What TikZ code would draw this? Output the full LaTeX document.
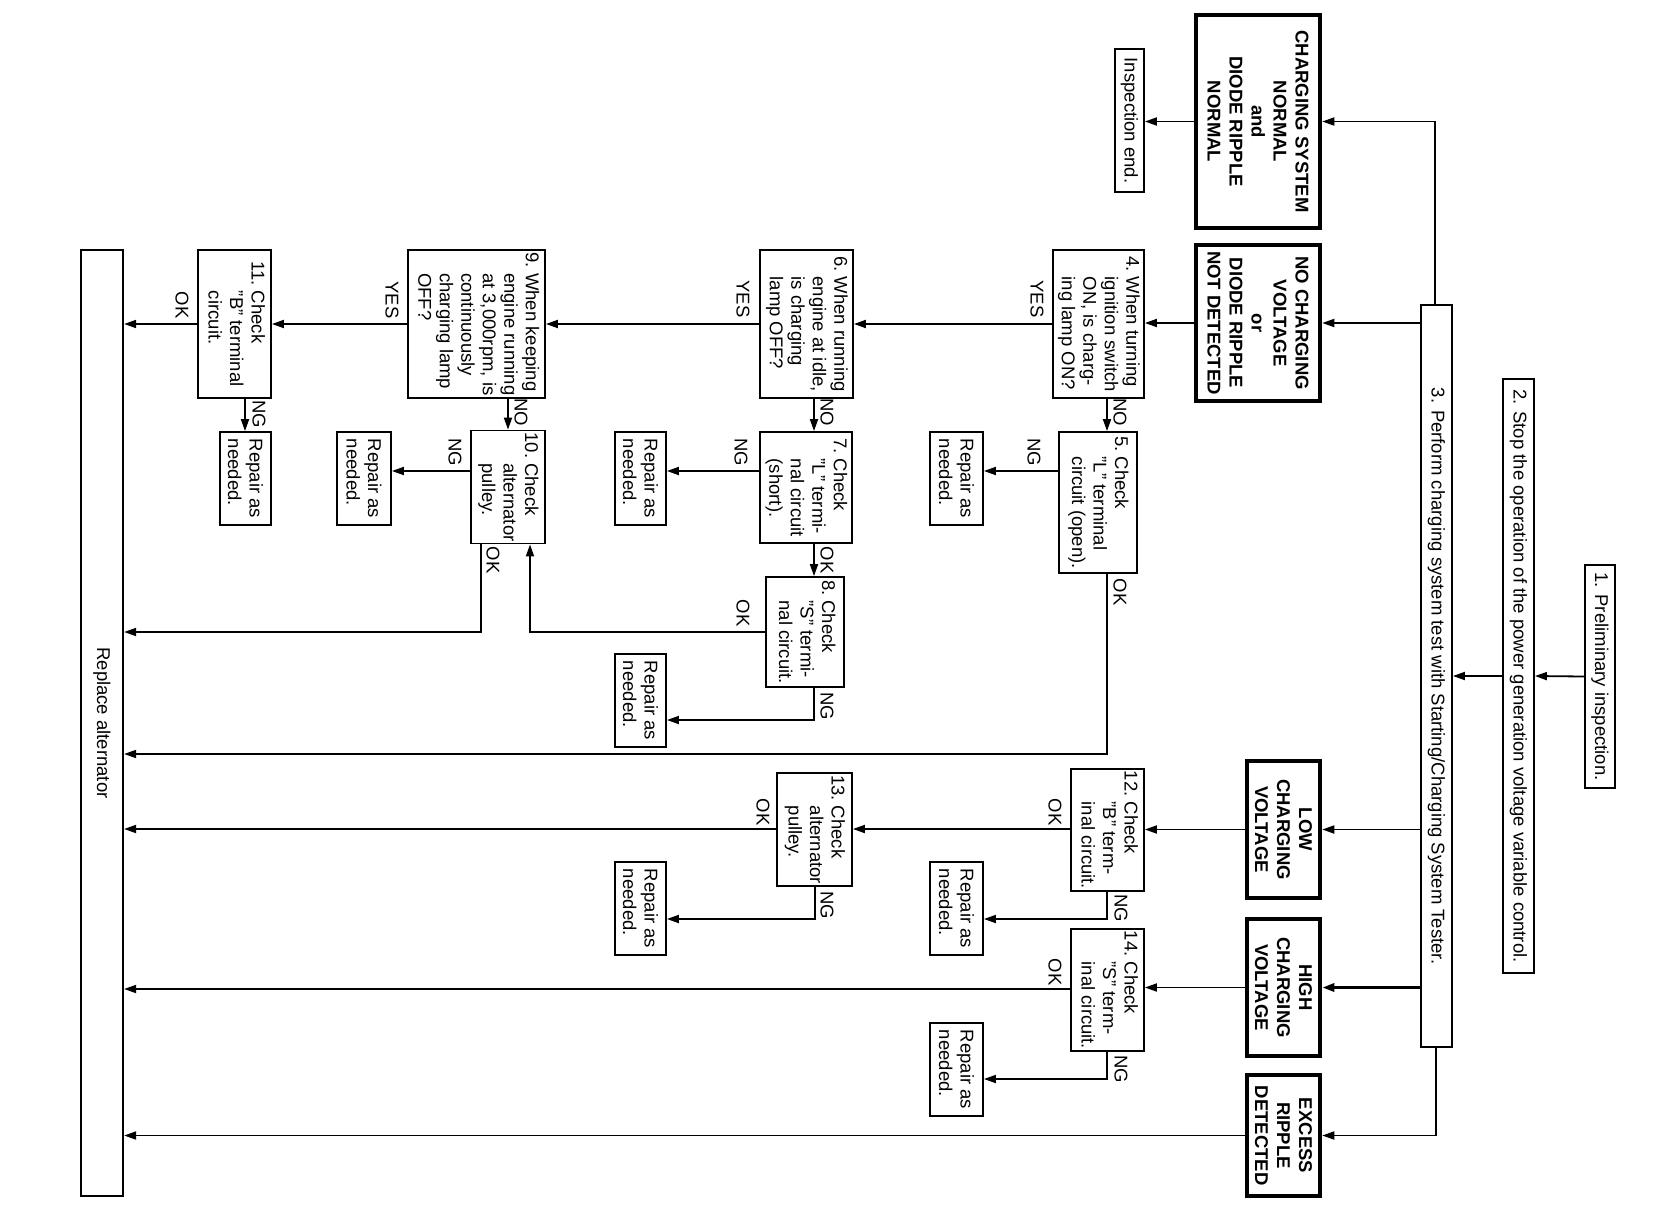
\documentclass[tikz,border=0pt]{standalone}
\usepackage{fontspec}
\setmainfont{Liberation Sans}
\usetikzlibrary{arrows.meta}
\newcommand{\hng}[2]{#1\ \begin{tabular}[t]{@{}l@{}}#2\end{tabular}}
\begin{document}
\begin{tikzpicture}[x=1pt,y=-1pt,
  nbox/.style={draw, line width=1.8pt, rotate=-90, inner sep=2pt, font=\fontsize{18.5}{21.5}\selectfont},
  rbox/.style={nbox, align=left},
  bbox/.style={draw, line width=4.5pt, rotate=-90, inner sep=2pt, align=center, font=\fontsize{18.5}{22}\selectfont\bfseries},
  lbl/.style={rotate=-90, inner sep=0pt, font=\fontsize{18.5}{21.5}\selectfont},
  arr/.style={line width=1.8pt, -{Triangle[length=12pt,width=8pt]}},
  ln/.style={line width=1.8pt}]
\useasboundingbox[fill=white] (0,0) rectangle (1660,1216);

% main column
\node[nbox, minimum width=223pt, minimum height=30pt] (b1) at (1600,676.5) {1. Preliminary inspection.};
\node[nbox, minimum width=594pt, minimum height=31pt] (b2) at (1518.5,676) {2. Stop the operation of the power generation voltage variable control.};
\node[nbox, minimum width=742pt, minimum height=31pt] (b3) at (1436.5,676) {3. Perform charging system test with Starting/Charging System Tester.};

% results
\node[bbox, minimum width=213pt, minimum height=124pt] (csn) at (1258,121.5) {CHARGING SYSTEM\\NORMAL\\and\\DIODE RIPPLE\\NORMAL};
\node[bbox, minimum width=156pt, minimum height=124pt] (noc) at (1258,323) {NO CHARGING\\VOLTAGE\\or\\DIODE RIPPLE\\NOT DETECTED};
\node[bbox, minimum width=137pt, minimum height=73pt] (low) at (1283.5,829.5) {LOW\\CHARGING\\VOLTAGE};
\node[bbox, minimum width=137pt, minimum height=73pt] (high) at (1283.5,987.5) {HIGH\\CHARGING\\VOLTAGE};
\node[bbox, minimum width=121pt, minimum height=73pt] (exc) at (1283.5,1135.5) {EXCESS\\RIPPLE\\DETECTED};
\node[nbox, minimum width=143pt, minimum height=29pt] (insp) at (1129.5,120.5) {Inspection end.};

% checks
\node[nbox, minimum width=148pt, minimum height=91pt] (b4) at (1098.5,324) {\hng{4.}{When turning\\ignition switch\\ON, is charg-\\ing lamp ON?}};
\node[nbox, minimum width=141pt, minimum height=78pt] (b5) at (1098,502.5) {\hng{5.}{Check\\"L" terminal\\circuit (open).}};
\node[rbox, minimum width=93pt, minimum height=53pt] (r5) at (956.5,478.5) {Repair as\\needed.};
\node[nbox, minimum width=148pt, minimum height=93pt] (b6) at (806.5,324) {\hng{6.}{When running\\engine at idle,\\is charging\\lamp OFF?}};
\node[nbox, minimum width=111pt, minimum height=92pt] (b7) at (806,487.5) {\hng{7.}{Check\\"L" termi-\\nal circuit\\(short).}};
\node[rbox, minimum width=93pt, minimum height=51pt] (r7) at (640.5,478.5) {Repair as\\needed.};
\node[nbox, minimum width=110pt, minimum height=78pt] (b8) at (805,632) {\hng{8.}{Check\\"S" termi-\\nal circuit.}};
\node[rbox, minimum width=93pt, minimum height=51pt] (r8) at (640.5,700.5) {Repair as\\needed.};
\node[nbox, minimum width=148pt, minimum height=137pt] (b9) at (476.5,324) {\hng{9.}{When keeping\\engine running\\at 3,000rpm, is\\continuously\\charging lamp\\OFF?}};
\node[nbox, minimum width=110pt, minimum height=74pt] (b10) at (508,487) {\hng{10.}{Check\\alternator\\pulley.}};
\node[rbox, minimum width=93pt, minimum height=54pt] (r10) at (364,478.5) {Repair as\\needed.};
\node[nbox, minimum width=148pt, minimum height=73pt] (b11) at (234.5,324) {\hng{11.}{Check\\"B" terminal\\circuit.}};
\node[rbox, minimum width=93pt, minimum height=51pt] (r11) at (245.5,478.5) {Repair as\\needed.};
\node[nbox, line width=2.2pt, minimum width=946pt, minimum height=42pt] (rep) at (102,723) {Replace alternator};
\node[nbox, minimum width=122pt, minimum height=73pt] (b12) at (1107.5,830) {\hng{12.}{Check\\"B" term-\\inal circuit.}};
\node[rbox, minimum width=93pt, minimum height=53pt] (r12) at (956.5,908.5) {Repair as\\needed.};
\node[nbox, minimum width=111pt, minimum height=75pt] (b13) at (814.5,829.5) {\hng{13.}{Check\\alternator\\pulley.}};
\node[rbox, minimum width=93pt, minimum height=51pt] (r13) at (640.5,908.5) {Repair as\\needed.};
\node[nbox, minimum width=122pt, minimum height=73pt] (b14) at (1107.5,990) {\hng{14.}{Check\\"S" term-\\inal circuit.}};
\node[rbox, minimum width=93pt, minimum height=53pt] (r14) at (956.5,1069.5) {Repair as\\needed.};

% connectors
\draw[arr] (b1.south) -- (b2.north);
\draw[arr] (b2.south) -- (b3.north);
\draw[arr] (b3.west -| 1435,0) |- (csn.north);
\draw[arr] (b3.south |- noc.north) -- (noc.north);
\draw[arr] (csn.south) -- (insp.north |- csn.south);
\draw[arr] (noc.south) -- (b4.north |- noc.south);
\draw[arr] (b4.south) -- (b6.north);
\draw[arr] (b4.east -| 1107,0) -- (b5.west -| 1107,0);
\draw[arr] (b5.south |- 0,471) -- (r5.north |- 0,471);
\draw[arr] (b5.east -| 1107,0) |- (rep.north |- 0,754);
\draw[arr] (b6.south) -- (b9.north);
\draw[arr] (b6.east -| 814,0) -- (b7.west -| 814,0);
\draw[arr] (b7.south |- 0,471) -- (r7.north |- 0,471);
\draw[arr] (b7.east -| 814,0) -- (b8.west -| 814,0);
\draw[arr] (b8.south |- 0,632) -| (b10.east -| 530,0);
\draw[arr] (b8.east -| 814,0) |- (r8.north |- 0,720);
\draw[arr] (b9.south) -- (b11.north);
\draw[arr] (b9.east -| 508,0) -- (b10.west -| 508,0);
\draw[arr] (b10.south |- 0,471) -- (r10.north |- 0,471);
\draw[arr] (b10.east -| 481,0) |- (rep.north |- 0,632);
\draw[arr] (b11.south) -- (rep.north |- b11.south);
\draw[arr] (b11.east -| 245,0) -- (r11.west -| 245,0);
\draw[arr] (b3.south |- low.north) -- (low.north);
\draw[arr] (low.south) -- (b12.north |- low.south);
\draw[arr, line width=3.2pt] (b3.south |- high.north) -- (high.north);
\draw[arr] (high.south) -- (b14.north |- high.south);
\draw[arr] (b3.east -| 1436,0) |- (exc.north);
\draw[arr] (exc.south) -- (rep.north |- exc.south);
\draw[arr] (b12.south |- 0,829) -- (b13.north |- 0,829);
\draw[arr] (b12.east -| 1107,0) |- (r12.north |- 0,919);
\draw[arr] (b13.south |- 0,829) -- (rep.north |- 0,829);
\draw[arr] (b13.east -| 815,0) |- (r13.north |- 0,919);
\draw[arr] (b14.south |- 0,989) -- (rep.north |- 0,989);
\draw[arr] (b14.east -| 1107,0) |- (r14.north |- 0,1079);

% labels
\node[lbl] (l1) at (1037,299) {YES};
\node[lbl] (l2) at (1120,412) {NO};
\node[lbl] (l3) at (743,299) {YES};
\node[lbl] (l4) at (827,412) {NO};
\node[lbl] (l5) at (392,300) {YES};
\node[lbl] (l6) at (521,412) {NO};
\node[lbl] (l7) at (182,305) {OK};
\node[lbl] (l8) at (259,414) {NG};
\node[lbl] (l9) at (1034,452) {NG};
\node[lbl] (l10) at (1120,592) {OK};
\node[lbl] (l11) at (741,452) {NG};
\node[lbl] (l12) at (827,560) {OK};
\node[lbl] (l13) at (743,613) {OK};
\node[lbl] (l14) at (827,706) {NG};
\node[lbl] (l15) at (455,452) {NG};
\node[lbl] (l16) at (493,560) {OK};
\node[lbl] (l17) at (1055,812) {OK};
\node[lbl] (l18) at (1121,908) {NG};
\node[lbl] (l19) at (763,812) {OK};
\node[lbl] (l20) at (827,905) {NG};
\node[lbl] (l21) at (1055,972) {OK};
\node[lbl] (l22) at (1121,1069) {NG};
\end{tikzpicture}
\end{document}
